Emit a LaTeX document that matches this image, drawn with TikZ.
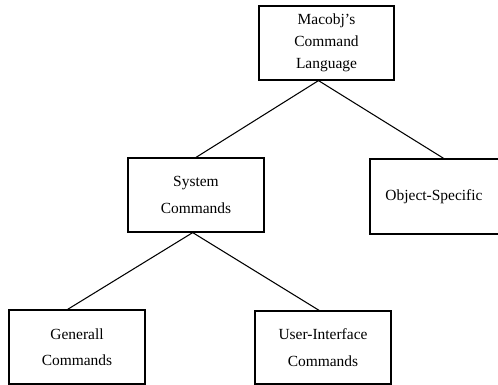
\documentclass[tikz,border=0pt]{standalone}
\usepackage{fontspec}
\setmainfont{Liberation Serif}
\usetikzlibrary{positioning}

\tikzset{
  cmdbox/.style={draw, line width=0.7pt, minimum width=2.72cm, minimum height=1.48cm,
    inner sep=0pt, align=center, font=\fontsize{8.8}{15}\selectfont},
  link/.style={line width=0.6pt}
}

\begin{document}
\begin{tikzpicture}[x=0.02cm, y=-0.02cm]
    \useasboundingbox (0,0) rectangle (498,385);
    \clip (0,0) rectangle (498,385);

    % root
    \node[cmdbox, minimum width=2.7cm, font=\fontsize{8.8}{12.4}\selectfont] (lang) at (326.5,43) {Macobj’s\\Command\\Language};

    % second level
    \node[cmdbox] (sys) at (196,195) {System\\Commands};
    \node[cmdbox, minimum width=3cm, minimum height=1.5cm] (obj) at (445,196.5) {Object-Specific\hspace*{0.44cm}};

    % third level
    \node[cmdbox] (gen) at (77,347) {Generall\\Commands};
    \node[cmdbox, minimum height=1.46cm] (ui) at (323,347.5) {User-Interface\\Commands};

    % links
    \draw[link] (lang.258) -- (sys.north);
    \draw[link] (lang.258) -- (obj.92);
    \draw[link] (sys.265) -- (gen.104);
    \draw[link] (sys.265) -- (ui.96);
\end{tikzpicture}
\end{document}
